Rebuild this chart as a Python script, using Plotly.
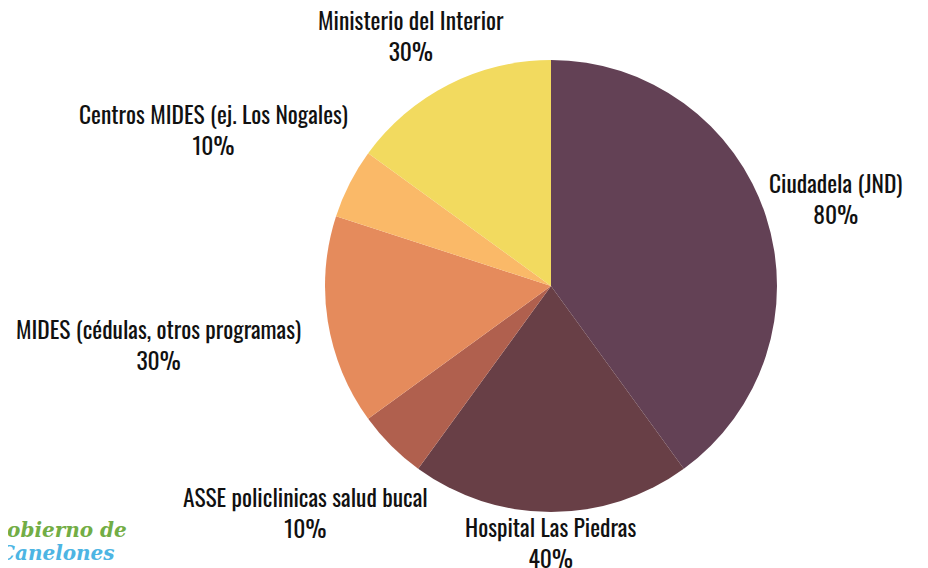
import plotly.graph_objects as go

categories = ["Ciudadela (JND)", "Hospital Las Piedras", "ASSE policlinicas salud bucal",
              "MIDES (cédulas, otros programas)", "Centros MIDES (ej. Los Nogales)",
              "Ministerio del Interior"]
values = [80, 40, 10, 30, 10, 30]
colors = ["#634155", "#683F46", "#B0604E", "#E58B5C", "#FAB968", "#F2DA5F"]

W, H = 928, 568
OFF = 8  # page body margin offset compensation
cx, cy, r = 551 - OFF, 286 - OFF, 226

# label text-block centres (layout, screen pixels from the top-left corner)
label_pos = [(835, 198), (550, 542), (305, 512), (158, 344), (213, 129), (411, 35)]

fig = go.Figure(go.Pie(
    labels=categories,
    values=values,
    textinfo="none",
    sort=False,
    direction="clockwise",
    rotation=0,
    marker=dict(colors=colors, line=dict(width=0)),
    domain=dict(x=[(cx - r) / W, (cx + r) / W], y=[1 - (cy + r) / H, 1 - (cy - r) / H]),
    showlegend=False,
    hoverinfo="label+value",
))

label_font = dict(family="Oswald, Liberation Sans Narrow, DejaVu Sans Condensed, Arial Narrow, sans-serif",
                  size=23.5, color="#111111")
for c, v, (px, py) in zip(categories, values, label_pos):
    fig.add_annotation(x=(px - OFF) / W, y=1 - (py - OFF) / H, xref="paper", yref="paper",
                       xanchor="center", yanchor="middle", align="center",
                       text=f"{c}<br>{v}%", showarrow=False, font=label_font)

fig.add_annotation(x=(129 - OFF) / W, y=1 - (530 - OFF) / H, xref="paper", yref="paper",
                   xanchor="right", yanchor="middle",
                   text="Gobierno de", showarrow=False,
                   font=dict(family="DejaVu Serif, serif", size=20, color="#72AD45", style="italic", weight="bold"))
fig.add_annotation(x=(117 - OFF) / W, y=1 - (553 - OFF) / H, xref="paper", yref="paper",
                   xanchor="right", yanchor="middle",
                   text="Canelones", showarrow=False,
                   font=dict(family="DejaVu Serif, serif", size=20, color="#4DB5E3", style="italic", weight="bold"))

fig.update_layout(width=W, height=H, margin=dict(l=0, r=0, t=0, b=0),
                  paper_bgcolor="white", plot_bgcolor="white")
fig.write_html("out.html")
